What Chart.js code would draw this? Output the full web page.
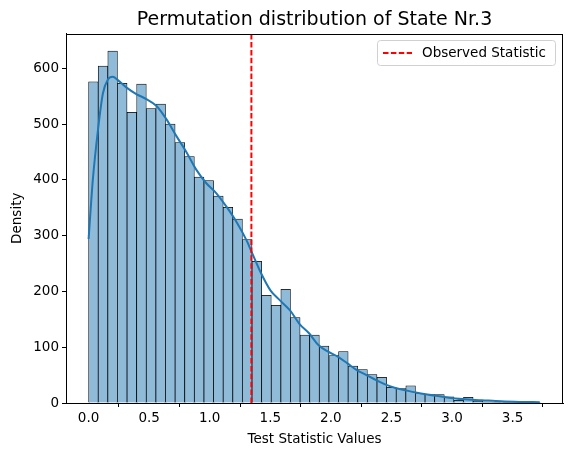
<!DOCTYPE html>
<html lang="en">
<head>
    <meta charset="UTF-8">
    <title>Permutation distribution</title>
    <script src="https://cdn.jsdelivr.net/npm/chart.js@4.4.0/dist/chart.umd.min.js"></script>
    <style>
        body { margin: 0; background: #fff; }
        #wrap { width: 571px; height: 456px; }
    </style>
</head>
<body>
    <div id="wrap"><canvas id="histChart" width="571" height="456"></canvas></div>

    <script>
        // histogram counts, 47 equal bins from 0 to maxValue
        var binCounts = [576, 604, 631, 573, 521, 572, 528, 536, 500, 467,
                         442, 405, 399, 371, 351, 330, 293, 254, 193, 175,
                         204, 153, 122, 122, 102, 85, 92, 66, 60, 51,
                         46, 28, 26, 31, 17, 15, 15, 11, 5, 10,
                         3, 2, 1, 1, 1, 0, 1];
        var maxValue = 3.73;

        // KDE curve (scaled to counts)
        var kdeX = [0, 0.035, 0.077, 0.118, 0.159, 0.20, 0.242, 0.311, 0.394, 0.477,
                    0.559, 0.642, 0.724, 0.807, 0.890, 0.972, 1.055, 1.138, 1.220, 1.303,
                    1.344, 1.423, 1.501, 1.580, 1.663, 1.740, 1.820, 1.897, 1.977, 2.057,
                    2.137, 2.214, 2.294, 2.373, 2.453, 2.533, 2.613, 2.770, 2.930, 3.084,
                    3.246, 3.406, 3.560, 3.725];
        var kdeY = [294, 400, 489, 555, 580, 585, 579, 566, 554, 545,
                    533, 509, 479, 450, 418, 394, 376, 352, 325, 292,
                    272, 233, 202, 184, 166, 142, 125, 104, 92, 83,
                    71, 59, 50, 41, 33, 27, 23, 16, 11, 7,
                    5, 3, 2, 1.5];

        var observedStat = 1.344;

        var xTicks = [0, 0.5, 1.0, 1.5, 2.0, 2.5, 3.0, 3.5];
        var yTicks = [0, 100, 200, 300, 400, 500, 600];

        var titleText = 'Permutation distribution of State Nr.3';
        var xLabel = 'Test Statistic Values';
        var yLabel = 'Density';
        var legendText = 'Observed Statistic';

        var binWidth = maxValue / binCounts.length;
        var histData = binCounts.map(function(c, i) {
            return {x: (i + 0.5) * binWidth, y: c};
        });
        var kdeData = kdeX.map(function(x, i) { return {x: x, y: kdeY[i]}; });

        var xPad = maxValue * 0.05;
        var yMax = Math.max.apply(null, binCounts) * 1.05;

        var FONT = 'DejaVu Sans';

        // title over the plot, frame round the plot and the legend box, matplotlib style
        var framePlugin = {
            id: 'frame',
            afterDraw: function(chart) {
                var ctx = chart.ctx;
                var a = chart.chartArea;
                ctx.save();
                ctx.strokeStyle = '#000';
                ctx.lineWidth = 1;
                ctx.setLineDash([]);
                ctx.strokeRect(Math.round(a.left) + 0.5, Math.round(a.top) + 0.5,
                               Math.round(a.right - a.left) - 1, Math.round(a.bottom - a.top) - 1);

                // title centred on the axes
                ctx.fillStyle = '#000';
                ctx.font = '19px "' + FONT + '"';
                ctx.textAlign = 'center';
                ctx.textBaseline = 'alphabetic';
                ctx.fillText(titleText, (a.left + a.right) / 2, 25);

                // legend
                var bx = 377.5, by = 40.5, bw = 178, bh = 25;
                ctx.fillStyle = 'rgba(255,255,255,0.8)';
                ctx.strokeStyle = '#d0d0d0';
                ctx.beginPath();
                ctx.roundRect(bx, by, bw, bh, 3);
                ctx.fill();
                ctx.stroke();

                ctx.strokeStyle = '#ff0000';
                ctx.lineWidth = 2;
                ctx.setLineDash([5.5, 2.4]);
                ctx.beginPath();
                ctx.moveTo(383, 53);
                ctx.lineTo(412, 53);
                ctx.stroke();

                ctx.setLineDash([]);
                ctx.fillStyle = '#000';
                ctx.font = '13.5px "' + FONT + '"';
                ctx.textBaseline = 'middle';
                ctx.textAlign = 'left';
                ctx.fillText(legendText, 422, 53);
                ctx.restore();
            }
        };

        var histCtx = document.getElementById('histChart');
        var histChart = new Chart(histCtx, {
            type: 'bar',
            data: {
                datasets: [
                    {
                        type: 'line',
                        label: legendText,
                        data: [{x: observedStat, y: 0}, {x: observedStat, y: yMax}],
                        borderColor: '#ff0000',
                        borderWidth: 2,
                        borderDash: [5.5, 2.4],
                        pointRadius: 0,
                        order: 0
                    },
                    {
                        type: 'line',
                        label: 'kde',
                        data: kdeData,
                        borderColor: '#1f77b4',
                        borderWidth: 2,
                        pointRadius: 0,
                        cubicInterpolationMode: 'monotone',
                        order: 1
                    },
                    {
                        type: 'bar',
                        label: 'counts',
                        data: histData,
                        backgroundColor: '#8fbbd9',
                        borderColor: '#000',
                        borderWidth: 0.75,
                        barPercentage: 1,
                        categoryPercentage: 1,
                        order: 2
                    }
                ]
            },
            options: {
                responsive: false,
                animation: false,
                layout: { padding: { left: 0, right: 8, top: 33.5, bottom: 0 } },
                plugins: {
                    legend: { display: false },
                    tooltip: { enabled: false },
                    title: { display: false }
                },
                scales: {
                    x: {
                        type: 'linear',
                        offset: false,
                        min: -xPad,
                        max: maxValue + xPad,
                        afterBuildTicks: function(scale) {
                            scale.ticks = xTicks.map(function(v) { return {value: v}; });
                        },
                        afterFit: function(scale) { scale.height = 53; },
                        grid: {
                            drawOnChartArea: false,
                            drawTicks: true,
                            tickLength: 4,
                            color: '#000'
                        },
                        border: { display: true, color: '#000' },
                        ticks: {
                            color: '#000',
                            padding: 3,
                            maxRotation: 0,
                            font: { family: FONT, size: 13.5 },
                            callback: function(v) { return Number(v).toFixed(1); }
                        },
                        title: {
                            display: true,
                            text: xLabel,
                            color: '#000',
                            font: { family: FONT, size: 13.5 },
                            padding: { top: 0, bottom: 8 }
                        }
                    },
                    y: {
                        min: 0,
                        max: yMax,
                        afterBuildTicks: function(scale) {
                            scale.ticks = yTicks.map(function(v) { return {value: v}; });
                        },
                        afterFit: function(scale) { scale.width = 66; },
                        grid: {
                            drawOnChartArea: false,
                            drawTicks: true,
                            tickLength: 4,
                            color: '#000'
                        },
                        border: { display: true, color: '#000' },
                        ticks: {
                            color: '#000',
                            padding: 3,
                            font: { family: FONT, size: 13.5 }
                        },
                        title: {
                            display: true,
                            text: yLabel,
                            color: '#000',
                            font: { family: FONT, size: 13.5 },
                            padding: { top: 9, bottom: 0 }
                        }
                    }
                }
            },
            plugins: [framePlugin]
        });
    </script>
</body>
</html>
